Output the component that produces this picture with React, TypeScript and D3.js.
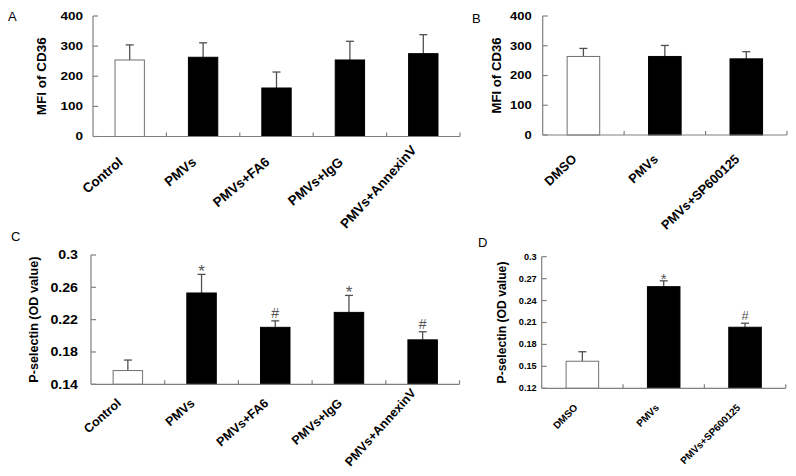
import React from "react";
import * as d3 from "d3";

// ---------- data ----------
const catsA = ["Control", "PMVs", "PMVs+FA6", "PMVs+IgG", "PMVs+AnnexinV"];
const meanA = [254, 263, 161, 254, 275];
const errA = [50, 48, 53, 62, 63];
const ticksA = [0, 100, 200, 300, 400];

const catsB = ["DMSO", "PMVs", "PMVs+SP600125"];
const meanB = [264, 264, 256];
const errB = [27, 37, 24];
const ticksB = [0, 100, 200, 300, 400];

const catsC = ["Control", "PMVs", "PMVs+FA6", "PMVs+IgG", "PMVs+AnnexinV"];
const meanC = [0.157, 0.253, 0.2105, 0.229, 0.195];
const errC = [0.013, 0.023, 0.008, 0.021, 0.01];
const marksC = ["", "*", "#", "*", "#"];
const ticksC = [0.14, 0.18, 0.22, 0.26, 0.3];

const catsD = ["DMSO", "PMVs", "PMVs+SP600125"];
const meanD = [0.157, 0.259, 0.2035];
const errD = [0.013, 0.008, 0.0055];
const marksD = ["", "*", "#"];
const ticksD = [0.12, 0.15, 0.18, 0.21, 0.24, 0.27, 0.3];

// ---------- layout / style ----------
const FONT = "'Liberation Sans', Arial, sans-serif";
const AXIS = "#808080";
const ERR = "#505050";

type Cfg = {
  cats: string[];
  means: number[];
  errs: number[];
  marks?: string[];
  domain: [number, number];
  ticks: number[];
  fmt: (v: number) => string;
  x0: number;
  x1: number;
  yTop: number;
  yBot: number;
  yLabel: string;
  yLabelX: number;
  yLabelSize: number;
  tickSize: number;
  tickSy: number;
  tickGap: number;
  catSize: number;
  catAngle: number;
  catDx: number;
  catDy: number;
  catOverride?: Record<number, { angle: number; dy: number }>;
  letter: string;
  letterX: number;
  letterY: number;
  starSize: number;
  hashSize: number;
};

const fmtInt = (v: number) => d3.format("d")(v);
const fmtDec = (v: number) => String(+v.toFixed(2));

const panels: Cfg[] = [
  {
    cats: catsA, means: meanA, errs: errA, domain: [0, 400], ticks: ticksA, fmt: fmtInt,
    x0: 93, x1: 460, yTop: 16, yBot: 136.5,
    yLabel: "MFI of CD36", yLabelX: 41, yLabelSize: 13.5,
    tickSize: 13.5, tickSy: 0.8, tickGap: 10, catSize: 13.4, catAngle: 40, catDx: -6, catDy: 27,
    catOverride: { 4: { angle: 48, dy: 14 } },
    letter: "A", letterX: 8, letterY: 21, starSize: 17, hashSize: 14,
  },
  {
    cats: catsB, means: meanB, errs: errB, domain: [0, 400], ticks: ticksB, fmt: fmtInt,
    x0: 542.7, x1: 787, yTop: 16, yBot: 135,
    yLabel: "MFI of CD36", yLabelX: 496, yLabelSize: 13.2,
    tickSize: 13, tickSy: 0.82, tickGap: 11, catSize: 12.8, catAngle: 43.5, catDx: -6, catDy: 25,
    letter: "B", letterX: 472, letterY: 23, starSize: 17, hashSize: 14,
  },
  {
    cats: catsC, means: meanC, errs: errC, marks: marksC, domain: [0.14, 0.3], ticks: ticksC, fmt: fmtDec,
    x0: 91, x1: 459.5, yTop: 255, yBot: 384.3,
    yLabel: "P-selectin (OD value)", yLabelX: 34, yLabelSize: 12.6,
    tickSize: 14.2, tickSy: 0.87, tickGap: 13, catSize: 12.5, catAngle: 41.5, catDx: -6, catDy: 20,
    catOverride: { 4: { angle: 48, dy: 9 } },
    letter: "C", letterX: 11, letterY: 241, starSize: 17, hashSize: 14,
  },
  {
    cats: catsD, means: meanD, errs: errD, marks: marksD, domain: [0.12, 0.3], ticks: ticksD, fmt: fmtDec,
    x0: 541.7, x1: 785.7, yTop: 256.7, yBot: 388.3,
    yLabel: "P-selectin (OD value)", yLabelX: 502, yLabelSize: 12.2,
    tickSize: 9.2, tickSy: 0.9, tickGap: 5, catSize: 10, catAngle: 45, catDx: -4, catDy: 20,
    letter: "D", letterX: 478, letterY: 247, starSize: 15, hashSize: 13,
  },
];

function Panel({ c }: { c: Cfg }) {
  const x = d3.scaleBand<string>().domain(c.cats).range([c.x0, c.x1]).padding(0);
  const y = d3.scaleLinear().domain(c.domain).range([c.yBot, c.yTop]);
  const bw = x.bandwidth() * 0.4;
  const mid = (c.yTop + c.yBot) / 2;
  return (
    <g>
      <text x={c.letterX} y={c.letterY} fontFamily={FONT} fontSize={13}>
        {c.letter}
      </text>
      {c.cats.map((cat, i) => {
        const cx = (x(cat) as number) + x.bandwidth() / 2;
        const yt = y(c.means[i]);
        const ye = y(c.means[i] + c.errs[i]);
        const white = i === 0;
        const mark = c.marks ? c.marks[i] : "";
        return (
          <g key={cat}>
            <line x1={cx} x2={cx} y1={yt} y2={ye} stroke={ERR} strokeWidth={1.3} />
            <line x1={cx - 4} x2={cx + 4} y1={ye} y2={ye} stroke={ERR} strokeWidth={1.3} />
            <rect
              x={cx - bw / 2}
              y={yt}
              width={bw}
              height={c.yBot - yt}
              fill={white ? "#ffffff" : "#000000"}
              stroke={white ? "#707070" : "#000000"}
              strokeWidth={1}
            />
            {mark && (
              <text
                x={cx}
                y={mark === "*" ? ye + 3 : ye - 3}
                textAnchor="middle"
                fontFamily={FONT}
                fontSize={mark === "*" ? c.starSize : c.hashSize}
                fill="#555555"
              >
                {mark}
              </text>
            )}
          </g>
        );
      })}
      <line x1={c.x0} x2={c.x0} y1={c.yTop} y2={c.yBot} stroke={AXIS} strokeWidth={1.2} />
      {c.ticks.map((t) => (
        <g key={t}>
          <line x1={c.x0} x2={c.x0 + 5} y1={y(t)} y2={y(t)} stroke={AXIS} strokeWidth={1.2} />
          <text
            transform={`translate(${c.x0 - c.tickGap},${y(t)}) scale(1,${c.tickSy})`}
            dy="0.36em"
            textAnchor="end"
            fontFamily={FONT}
            fontWeight="bold"
            fontSize={c.tickSize}
          >
            {c.fmt(t)}
          </text>
        </g>
      ))}
      <line x1={c.x0} x2={c.x1} y1={c.yBot} y2={c.yBot} stroke={AXIS} strokeWidth={1.2} />
      {c.cats.map((cat) => {
        const xr = (x(cat) as number) + x.bandwidth();
        return <line key={"t" + cat} x1={xr} x2={xr} y1={c.yBot} y2={c.yBot - 4} stroke={AXIS} strokeWidth={1.2} />;
      })}
      {c.cats.map((cat, i) => {
        const ov = c.catOverride ? c.catOverride[i] : undefined;
        const angle = ov ? ov.angle : c.catAngle;
        const dy = ov ? ov.dy : c.catDy;
        const cx = (x(cat) as number) + x.bandwidth() / 2 + c.catDx;
        const cy = c.yBot + dy;
        return (
          <text
            key={"l" + cat}
            x={cx}
            y={cy}
            transform={`rotate(${-angle},${cx},${cy})`}
            textAnchor="end"
            fontFamily={FONT}
            fontWeight="bold"
            fontSize={c.catSize}
          >
            {cat}
          </text>
        );
      })}
      <text
        transform={`translate(${c.yLabelX},${mid}) rotate(-90)`}
        textAnchor="middle"
        dominantBaseline="central"
        fontFamily={FONT}
        fontWeight="bold"
        fontSize={c.yLabelSize}
      >
        {c.yLabel}
      </text>
    </g>
  );
}

export default function App() {
  return (
    <svg width={796} height={476} style={{ position: "absolute", left: 0, top: 0, background: "#fff" }}>
      <rect width={796} height={476} fill="#fff" />
      {panels.map((c) => (
        <Panel key={c.letter} c={c} />
      ))}
    </svg>
  );
}
